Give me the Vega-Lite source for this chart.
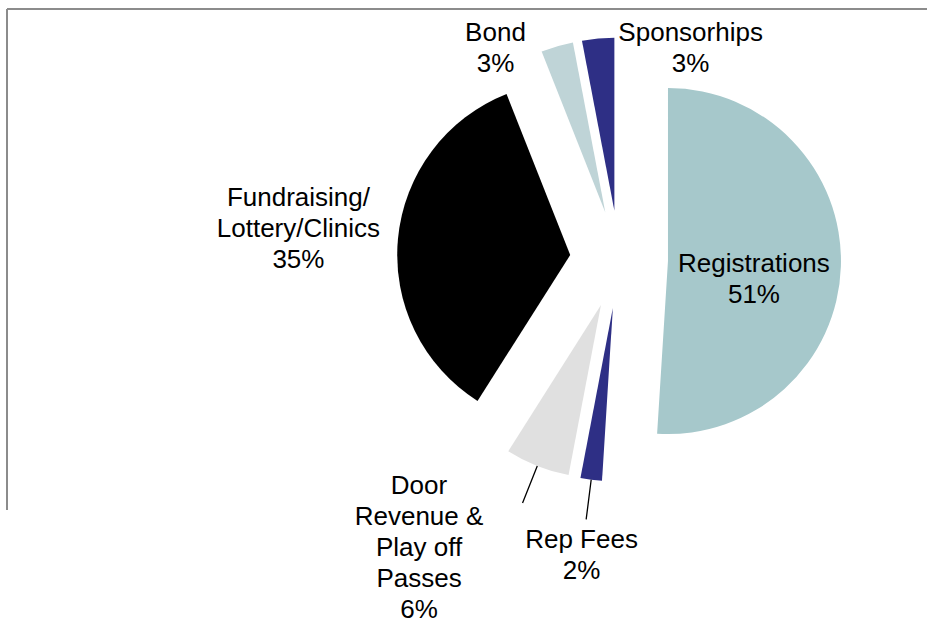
{
  "$schema": "https://vega.github.io/schema/vega-lite/v6.json",
  "width": 1224,
  "height": 501,
  "autosize": {"type": "none"},
  "padding": {"left": 7, "top": 9, "right": -304, "bottom": 121},
  "background": "white",
  "view": {"stroke": "#8c8c8c", "strokeWidth": 2, "strokeDash": [1725, 1224, 501, 0]},
  "config": {
    "view": {"stroke": "#8c8c8c", "strokeWidth": 2, "strokeDash": [1725, 1224, 501, 0]},
    "text": {"font": "Liberation Sans"}
  },
  "data": {
    "values": [
      {"category": "Registrations", "value": 51},
      {"category": "Rep Fees", "value": 2},
      {"category": "Door\nRevenue &\nPlay off\nPasses", "value": 6},
      {"category": "Fundraising/\nLottery/Clinics", "value": 35},
      {"category": "Bond", "value": 3},
      {"category": "Sponsorhips", "value": 3}
    ]
  },
  "transform": [{"window": [{"op": "row_number", "as": "idx"}]}],
  "encoding": {
    "theta": {"field": "value", "type": "quantitative", "stack": true},
    "order": {"field": "idx", "type": "quantitative"}
  },
  "layer": [
    {
      "mark": {
        "type": "arc",
        "outerRadius": 173,
        "xOffset": {"expr": "49 * sin(scale('theta', (datum.value_start + datum.value_end) / 2))"},
        "yOffset": {"expr": "-49 * cos(scale('theta', (datum.value_start + datum.value_end) / 2))"}
      },
      "encoding": {
        "color": {
          "field": "category",
          "type": "nominal",
          "scale": {
            "domain": ["Registrations", "Rep Fees", "Door\nRevenue &\nPlay off\nPasses", "Fundraising/\nLottery/Clinics", "Bond", "Sponsorhips"],
            "range": ["#A6C8CB", "#2E2F85", "#E0E0E0", "#000000", "#BFD4D7", "#2E2F85"]
          },
          "legend": null
        }
      }
    },
    {
      "mark": {
        "type": "arc",
        "outerRadius": 262,
        "innerRadius": 222,
        "padAngle": 3,
        "fill": "transparent",
        "stroke": "#000000",
        "strokeWidth": 1.3,
        "strokeOpacity": {"expr": "datum.value < 10 && cos(scale('theta', (datum.value_start + datum.value_end) / 2)) < 0 ? 1 : 0"}
      }
    },
    {
      "transform": [
        {"window": [{"op": "lag", "field": "value", "as": "prev"}, {"op": "lead", "field": "value", "as": "next"}], "sort": [{"field": "idx", "order": "ascending"}]},
        {"calculate": "datum.category + '\\n' + datum.value + '%'", "as": "label"},
        {"calculate": "length(split(datum.category, '\\n')) + 1", "as": "nl"},
        {"calculate": "15.5 * datum.nl", "as": "hh"},
        {"calculate": "6 * length(datum.category) / (datum.nl - 1)", "as": "hw"},
        {"calculate": "datum.prev != null && (datum.prev + datum.value) / 2 < 5", "as": "pc"},
        {"calculate": "datum.next != null && (datum.next + datum.value) / 2 < 5", "as": "nc"}
      ],
      "mark": {
        "type": "text",
        "fontSize": 26,
        "lineHeight": 31,
        "lineBreak": "\n",
        "align": "center",
        "baseline": "middle",
        "color": "#000000",
        "dy": {"expr": "datum.value >= 40 ? 0 : -(datum.nl - 1) * 15.5"},
        "thetaOffset": {"expr": "(datum.pc ? ((datum.hw + 35) / (cos(scale('theta', (datum.value_start + datum.value_end) / 2)) > 0 ? 240 : 350)) : ((datum.nc && cos(scale('theta', (datum.value_start + datum.value_end) / 2)) > 0) ? -((datum.hw + 35) / (cos(scale('theta', (datum.value_start + datum.value_end) / 2)) > 0 ? 240 : 350)) : 0))"},
        "radius": {"expr": "datum.value >= 40 ? 135 : min((datum.value < 10 && cos(scale('theta', (datum.value_start + datum.value_end) / 2)) < 0 ? 262 : 234) + abs(sin(scale('theta', (datum.value_start + datum.value_end) / 2) + (datum.pc ? ((datum.hw + 35) / (cos(scale('theta', (datum.value_start + datum.value_end) / 2)) > 0 ? 240 : 350)) : ((datum.nc && cos(scale('theta', (datum.value_start + datum.value_end) / 2)) > 0) ? -((datum.hw + 35) / (cos(scale('theta', (datum.value_start + datum.value_end) / 2)) > 0 ? 240 : 350)) : 0)))) * datum.hw + abs(cos(scale('theta', (datum.value_start + datum.value_end) / 2) + (datum.pc ? ((datum.hw + 35) / (cos(scale('theta', (datum.value_start + datum.value_end) / 2)) > 0 ? 240 : 350)) : ((datum.nc && cos(scale('theta', (datum.value_start + datum.value_end) / 2)) > 0) ? -((datum.hw + 35) / (cos(scale('theta', (datum.value_start + datum.value_end) / 2)) > 0 ? 240 : 350)) : 0)))) * datum.hh, cos(scale('theta', (datum.value_start + datum.value_end) / 2) + (datum.pc ? ((datum.hw + 35) / (cos(scale('theta', (datum.value_start + datum.value_end) / 2)) > 0 ? 240 : 350)) : ((datum.nc && cos(scale('theta', (datum.value_start + datum.value_end) / 2)) > 0) ? -((datum.hw + 35) / (cos(scale('theta', (datum.value_start + datum.value_end) / 2)) > 0 ? 240 : 350)) : 0))) > 0 ? (height / 2 - 8 - datum.hh) / cos(scale('theta', (datum.value_start + datum.value_end) / 2) + (datum.pc ? ((datum.hw + 35) / (cos(scale('theta', (datum.value_start + datum.value_end) / 2)) > 0 ? 240 : 350)) : ((datum.nc && cos(scale('theta', (datum.value_start + datum.value_end) / 2)) > 0) ? -((datum.hw + 35) / (cos(scale('theta', (datum.value_start + datum.value_end) / 2)) > 0 ? 240 : 350)) : 0))) : 10000)"}
      },
      "encoding": {"text": {"field": "label", "type": "nominal"}}
    }
  ]
}
